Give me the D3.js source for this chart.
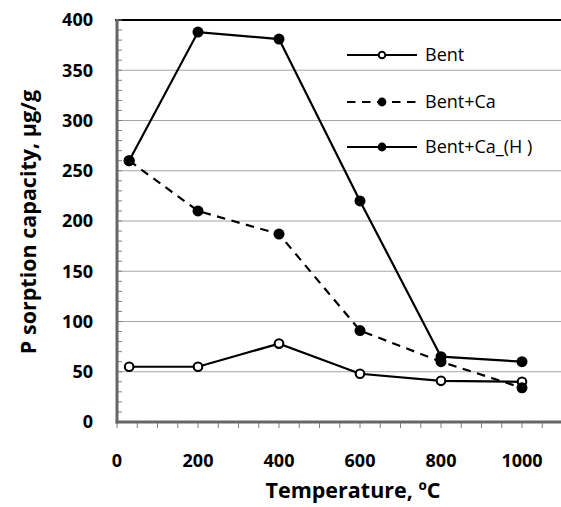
<!DOCTYPE html>
<html><head><meta charset="utf-8">
<script src="https://cdn.jsdelivr.net/npm/d3@7"></script>
<style>
html,body{margin:0;padding:0;background:#fff;overflow:hidden;}
svg{display:block;}
</style></head>
<body>
<svg id="chart" width="561" height="507"></svg>
<script>
// ---- data ----
const temperatures = [30, 200, 400, 600, 800, 1000];
const bent = [55, 55, 78, 48, 41, 40];
const bentCa = [260, 210, 187, 91, 60, 34];
const bentCaH = [260, 388, 381, 220, 65, 60];
const seriesNames = ["Bent", "Bent+Ca", "Bent+Ca_(H )"];
const xTicks = [0, 200, 400, 600, 800, 1000];
const yTicks = [0, 50, 100, 150, 200, 250, 300, 350, 400];
const xTitle = "Temperature, \u00BAC";
const yTitle = "P sorption capacity, \u00B5g/g";

const series = [
  {name: seriesNames[0], values: bent, dash: null, hollow: true},
  {name: seriesNames[1], values: bentCa, dash: "8.5,6.5", hollow: false},
  {name: seriesNames[2], values: bentCaH, dash: null, hollow: false}
];

const svg = d3.select("#chart");
const pL = 117, pR = 603, pT = 20, pB = 422;
const x = d3.scaleLinear().domain([0, 1200]).range([pL, pR]);
const y = d3.scaleLinear().domain([0, 400]).range([pB, pT]);
const font = "'Open Sans', sans-serif";

// gridlines
svg.append("g").selectAll("line").data(yTicks.filter(v => v > 0 && v < 400)).join("line")
  .attr("x1", pL).attr("x2", pR)
  .attr("y1", d => y(d)).attr("y2", d => y(d))
  .attr("stroke", "#a6a6a6").attr("stroke-width", 1.2);

// top border
svg.append("line").attr("x1", pL - 2).attr("x2", pR).attr("y1", y(400)).attr("y2", y(400))
  .attr("stroke", "#000").attr("stroke-width", 2);

// minor ticks
const yMinor = d3.range(0, 401, 10);
svg.append("g").selectAll("line").data(yMinor).join("line")
  .attr("x1", pL).attr("x2", pL + 5)
  .attr("y1", d => y(d)).attr("y2", d => y(d))
  .attr("stroke", "#7f7f7f").attr("stroke-width", 1);
const xMinor = d3.range(0, 1201, 50);
svg.append("g").selectAll("line").data(xMinor).join("line")
  .attr("x1", d => x(d)).attr("x2", d => x(d))
  .attr("y1", pB).attr("y2", pB + 6)
  .attr("stroke", "#7f7f7f").attr("stroke-width", 1);

// axes lines
svg.append("line").attr("x1", pL).attr("x2", pL).attr("y1", pT - 1).attr("y2", pB + 1.5)
  .attr("stroke", "#666").attr("stroke-width", 3);
svg.append("line").attr("x1", pL - 1.5).attr("x2", pR).attr("y1", pB).attr("y2", pB)
  .attr("stroke", "#666").attr("stroke-width", 3);

// tick labels
svg.append("g").selectAll("text").data(yTicks).join("text")
  .attr("x", 93).attr("y", d => y(d)).attr("dy", "0.36em")
  .attr("text-anchor", "end").attr("font-family", font).attr("font-weight", "bold")
  .attr("font-size", 18).text(d => d);
svg.append("g").selectAll("text").data(xTicks).join("text")
  .attr("x", d => x(d)).attr("y", 467)
  .attr("text-anchor", "middle").attr("font-family", font).attr("font-weight", "bold")
  .attr("font-size", 18).text(d => d);

// axis titles
svg.append("text").attr("x", 353).attr("y", 498)
  .attr("text-anchor", "middle").attr("font-family", font).attr("font-weight", "bold")
  .attr("font-size", 21.5).text(xTitle);
svg.append("text").attr("transform", `translate(35.5,222) rotate(-90)`)
  .attr("text-anchor", "middle").attr("font-family", font).attr("font-weight", "bold")
  .attr("font-size", 21.5).text(yTitle);

// lines
const line = d3.line().x((d, i) => x(temperatures[i])).y(d => y(d));
series.forEach(s => {
  svg.append("path").datum(s.values).attr("d", line)
    .attr("fill", "none").attr("stroke", "#000").attr("stroke-width", 2.2)
    .attr("stroke-dasharray", s.dash);
});
series.forEach(s => {
  svg.append("g").selectAll("circle").data(s.values).join("circle")
    .attr("cx", (d, i) => x(temperatures[i])).attr("cy", d => y(d))
    .attr("r", s.hollow ? 4.3 : 5.5)
    .attr("fill", s.hollow ? "#fff" : "#000")
    .attr("stroke", "#000").attr("stroke-width", s.hollow ? 2.1 : 0);
});

// legend
const legY = [55, 102, 147];
series.forEach((s, i) => {
  const g = svg.append("g");
  g.append("line").attr("x1", 347).attr("x2", 417).attr("y1", legY[i]).attr("y2", legY[i])
    .attr("stroke", "#000").attr("stroke-width", 2.2).attr("stroke-dasharray", s.dash);
  g.append("circle").attr("cx", 382).attr("cy", legY[i]).attr("r", s.hollow ? 3.3 : 4.4)
    .attr("fill", s.hollow ? "#fff" : "#000").attr("stroke", "#000").attr("stroke-width", s.hollow ? 1.9 : 0);
  g.append("text").attr("x", 425).attr("y", legY[i]).attr("dy", "0.36em")
    .attr("font-family", font).attr("font-size", 18).text(s.name);
});
</script>
</body></html>
